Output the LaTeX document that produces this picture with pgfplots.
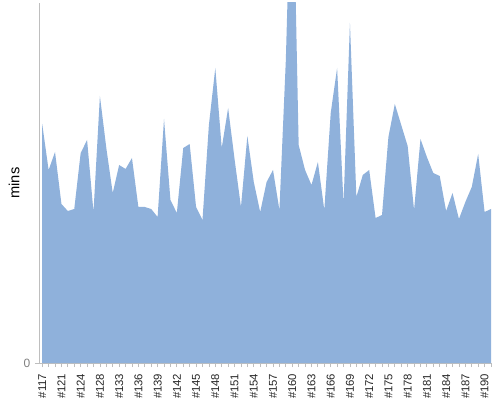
\documentclass[border=0pt]{standalone}
\usepackage{fontspec}
\setmainfont{Liberation Sans}
\usepackage{pgfplots}
\pgfplotsset{compat=1.18}
\definecolor{areafill}{RGB}{143,177,219}
\definecolor{axisgray}{RGB}{190,190,190}

\begin{document}
\begin{tikzpicture}
\useasboundingbox (0,0) rectangle (375pt,300pt);
\begin{axis}[
  at={(29.25pt,27.75pt)}, anchor=south west,
  scale only axis,
  width=339pt, height=270pt,
  xmin=-0.5, xmax=70,
  ymin=0, ymax=360,
  axis x line=bottom, axis y line=left,
  axis line style={-, draw=axisgray},
  tick style={draw=axisgray, line width=0.6pt},
  tick align=outside,
  major tick length=3pt, minor tick length=3pt,
  xtick={0,3,...,69},
  minor xtick={0,...,70},
  xticklabels={\#117,\#121,\#124,\#128,\#133,\#136,\#139,\#142,\#145,\#148,\#151,\#154,\#157,\#160,\#163,\#166,\#169,\#172,\#175,\#178,\#181,\#184,\#187,\#190},
  xticklabel shift=1.5pt,
  xticklabel style={rotate=90, anchor=east, font=\fontsize{8.5}{10}\selectfont, text=black!85},
  ytick={0},
  yticklabel style={font=\fontsize{9}{10}\selectfont, text=gray},
  /pgf/number format/assume math mode=true,
  ylabel={mins},
  ylabel style={at={(axis description cs:-0.055,0.5)}, anchor=center, font=\fontsize{11}{12}\selectfont},
  clip=true,
]
\addplot[fill=areafill, draw=none] coordinates {
(0,239) (1,193) (2,211) (3,159) (4,152) (5,154) (6,210) (7,223) (8,151) (9,267)
(10,215) (11,170) (12,198) (13,194) (14,205) (15,156) (16,156) (17,154) (18,146) (19,244)
(20,163) (21,150) (22,215) (23,219) (24,156) (25,143) (26,238) (27,295) (28,215) (29,255)
(30,204) (31,156) (32,227) (33,181) (34,151) (35,181) (36,193) (37,153) (38,303) (39,532)
(40,218) (41,193) (42,178) (43,201) (44,153) (45,250) (46,295) (47,159) (48,340) (49,166)
(50,188) (51,193) (52,145) (53,148) (54,226) (55,259) (56,238) (57,217) (58,153) (59,224)
(60,206) (61,190) (62,187) (63,152) (64,170) (65,144) (66,161) (67,176) (68,209) (69,151)
(70,154)
} \closedcycle;
\end{axis}
\end{tikzpicture}
\end{document}
